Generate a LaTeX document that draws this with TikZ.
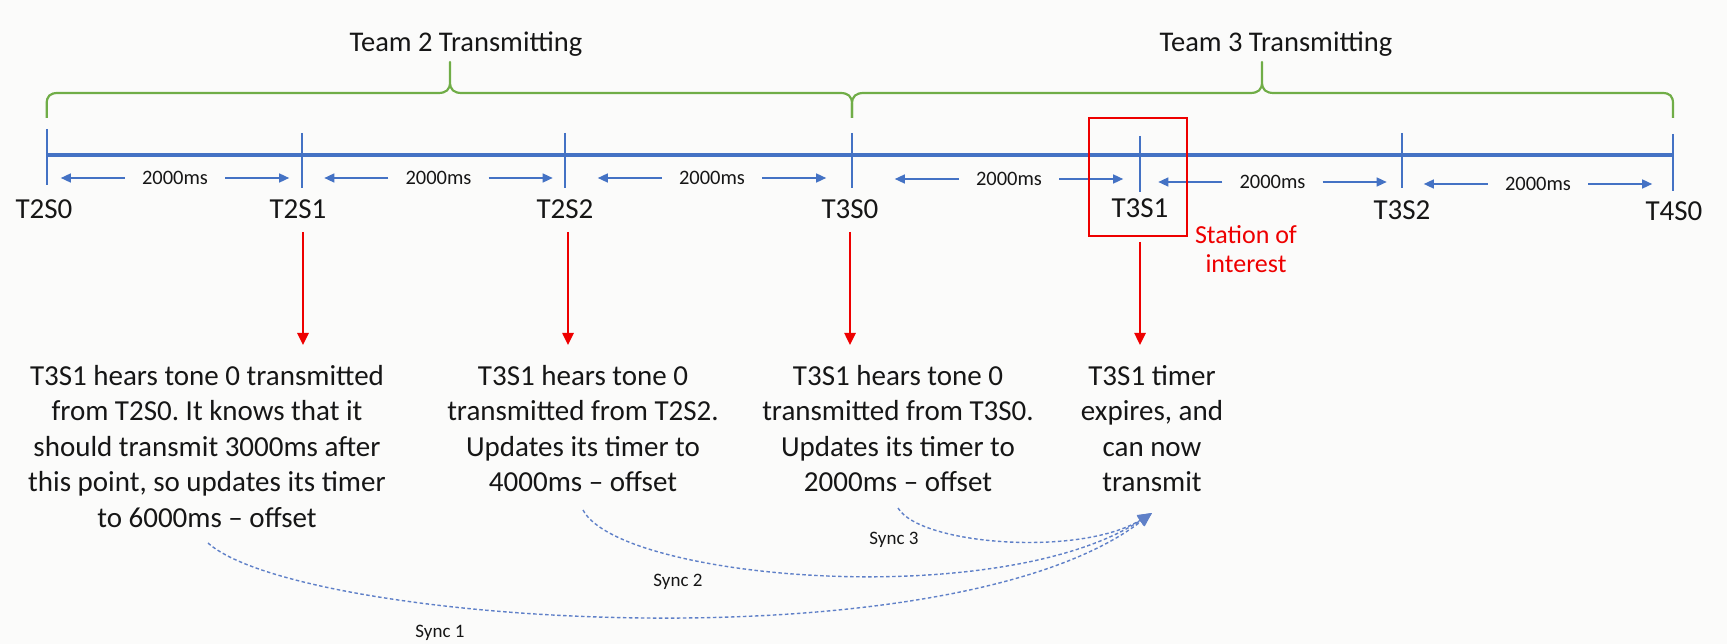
\documentclass[tikz,border=0pt]{standalone}
\usepackage{fontspec}
\setmainfont{Carlito}
\usetikzlibrary{arrows.meta}
\definecolor{tlblue}{RGB}{68,114,196}
\definecolor{brgreen}{RGB}{112,173,71}
\definecolor{hired}{RGB}{238,0,0}
\definecolor{txt}{RGB}{22,22,22}
\definecolor{syncblue}{RGB}{95,128,200}
\definecolor{bgcol}{RGB}{251,251,250}
\frenchspacing
\begin{document}
\frenchspacing
\begin{tikzpicture}[x=1pt,y=-1pt,
  tline/.style={tlblue, line width=4pt},
  tickmark/.style={tlblue, line width=2.2pt},
  brace/.style={brgreen, line width=2.2pt, line join=round},
  iarrow/.style={tlblue, line width=1.5pt, -{Triangle[length=10pt,width=9pt]}},
  ms/.style={font=\fontsize{20.5}{24}\selectfont, text=txt, inner xsep=17pt, inner ysep=0pt},
  stlabel/.style={font=\fontsize{29}{35}\selectfont, text=txt, inner sep=0pt, anchor=base},
  teamlabel/.style={font=\fontsize{28.5}{34}\selectfont, text=txt, inner sep=0pt, anchor=base},
  block/.style={font=\fontsize{29}{35.5}\selectfont\frenchspacing, text=txt, inner sep=0pt, anchor=north, align=center},
  rarrow/.style={hired, line width=2.5pt, -{Triangle[length=12pt,width=11pt]}},
  synclabel/.style={font=\fontsize{19}{22}\selectfont, text=txt, inner sep=0pt, anchor=base},
  sync/.style={syncblue, line width=1.4pt, dash pattern=on 3.5pt off 2.5pt, -{Triangle[length=14pt,width=12pt]}}
]
\fill[bgcol] (0,0) rectangle (1727,644);
\useasboundingbox (0,0) rectangle (1727,644);

% timeline stations
\coordinate (s0) at (46.7,155);
\coordinate (s1) at (302,155);
\coordinate (s2) at (565,155);
\coordinate (s3) at (852,155);
\coordinate (s4) at (1140,155);
\coordinate (s5) at (1402,155);
\coordinate (s6) at (1673,155);
\draw[tline] (s0) -- (s6);
\draw[tickmark] (46.7,129) -- (46.7,185);
\draw[tickmark] (302,133) -- (302,188);
\draw[tickmark] (565,133) -- (565,188);
\draw[tickmark] (852,133) -- (852,188);
\draw[tickmark] (1140,136) -- (1140,192);
\draw[tickmark] (1402,133) -- (1402,188);
\draw[tickmark] (1673,134) -- (1673,191);

% braces
\draw[brace] (46.7,118) -- (46.7,104) .. controls (46.7,96) and (50,93) .. (58,93)
  -- (438,93) .. controls (446,93) and (450,90) .. (450,82) -- (450,62)
  -- (450,82) .. controls (450,90) and (454,93) .. (462,93)
  -- (840,93) .. controls (848,93) and (852,96) .. (852,104) -- (852,118);
\draw[brace] (852,118) -- (852,104) .. controls (852,96) and (856,93) .. (864,93)
  -- (1250,93) .. controls (1258,93) and (1262,90) .. (1262,82) -- (1262,62)
  -- (1262,82) .. controls (1262,90) and (1266,93) .. (1274,93)
  -- (1662,93) .. controls (1670,93) and (1673,96) .. (1673,104) -- (1673,118);
\node[teamlabel] (team2) at (466,52) {Team 2 Transmitting};
\node[teamlabel] (team3) at (1276,52) {Team 3 Transmitting};

% interval arrows
\foreach \n/\x/\y in {1/175/178, 2/438.5/178, 3/712/178, 4/1009/179, 5/1272.5/182, 6/1538/184}{
  \node[ms] (m\n) at (\x,\y) {2000ms};
  \draw[iarrow] (m\n.west) -- ([xshift=-64pt]m\n.west);
  \draw[iarrow] (m\n.east) -- ([xshift=64pt]m\n.east);
}

% station labels
\node[stlabel] (lT2S0) at (44,218.5) {T2S0};
\node[stlabel] (lT2S1) at (298,218.5) {T2S1};
\node[stlabel] (lT2S2) at (565,218.5) {T2S2};
\node[stlabel] (lT3S0) at (850,218.5) {T3S0};
\node[stlabel] (lT3S1) at (1140,218) {T3S1};
\node[stlabel] (lT3S2) at (1402,219.5) {T3S2};
\node[stlabel] (lT4S0) at (1674,221) {T4S0};

% station of interest
\node[draw=hired, line width=2.5pt, minimum width=98pt, minimum height=118pt, inner sep=0pt] (box) at (1138,177) {};
\node[font=\fontsize{26}{29.5}\selectfont, text=hired, align=center, inner sep=0pt] (soi) at (1246,249) {Station of\\interest};

% text blocks
\node[block] (b1) at (207,365) {T3S1 hears tone 0 transmitted\\from T2S0. It knows that it\\should transmit 3000ms after\\this point, so updates its timer\\to 6000ms – offset};
\node[block] (b2) at (583,365) {T3S1 hears tone 0\\transmitted from T2S2.\\Updates its timer to\\4000ms – offset};
\node[block] (b3) at (898,365) {T3S1 hears tone 0\\transmitted from T3S0.\\Updates its timer to\\2000ms – offset};
\node[block] (b4) at (1152,365) {T3S1 timer\\expires, and\\can now\\transmit};

% red arrows
\coordinate (r1s) at (303,232); \coordinate (r1e) at (303,345);
\coordinate (r2s) at (568,232); \coordinate (r2e) at (568,345);
\coordinate (r3s) at (850,232); \coordinate (r3e) at (850,345);
\coordinate (r4s) at (1140,242); \coordinate (r4e) at (1140,345);
\draw[rarrow] (r1s) -- (r1e);
\draw[rarrow] (r2s) -- (r2e);
\draw[rarrow] (r3s) -- (r3e);
\draw[rarrow] (r4s) -- (r4e);

% sync curves
\coordinate (tip) at (1152,513);
\coordinate (c1) at (208,543);
\coordinate (c2) at (583,510);
\coordinate (c3) at (898,508);
\draw[sync] (c1) .. controls (300,625) and (950,668) .. (tip);
\draw[sync] (c2) .. controls (620,580) and (1000,612) .. (tip);
\draw[sync] (c3) .. controls (920,545) and (1080,557) .. (tip);
\node[synclabel] (sy1) at (440,637) {Sync 1};
\node[synclabel] (sy2) at (678,586) {Sync 2};
\node[synclabel] (sy3) at (894,544) {Sync 3};
\end{tikzpicture}
\end{document}
